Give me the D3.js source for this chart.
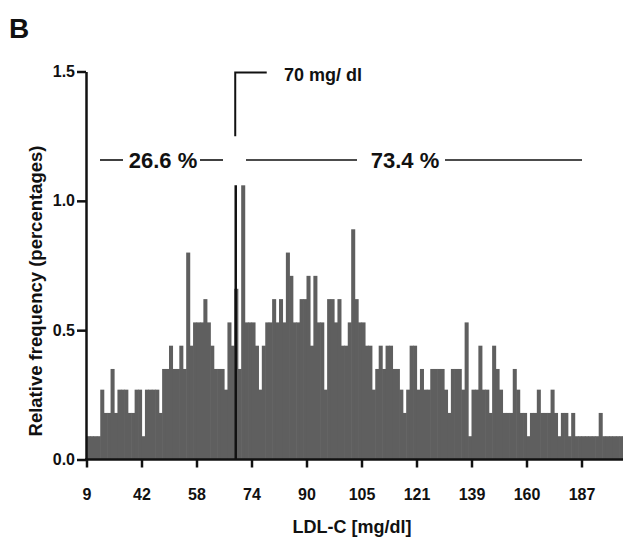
<!DOCTYPE html>
<html>
<head>
<meta charset="utf-8">
<script src="https://cdn.jsdelivr.net/npm/d3@7"></script>
<style>
  html, body { margin: 0; padding: 0; background: #fff; }
  svg { display: block; }
  text { font-family: "Liberation Sans", Arial, Helvetica, sans-serif; font-weight: bold; fill: #111; }
</style>
</head>
<body>
<svg id="chart" width="623" height="538"></svg>
<script>
// ---- data (relative frequency, % per LDL-C category, left to right) ----
const freq = [
  0.09,0.09,0.09,0.09,0.27,0.18,0.18,0.35,0.18,0.27,
  0.27,0.27,0.18,0.18,0.27,0.27,0.09,0.27,0.27,0.27,
  0.27,0.18,0.35,0.35,0.44,0.35,0.35,0.44,0.35,0.80,
  0.44,0.53,0.53,0.53,0.62,0.53,0.44,0.35,0.35,0.35,
  0.27,0.53,0.44,0.66,0.35,1.06,0.53,0.53,0.53,0.44,
  0.27,0.44,0.53,0.53,0.62,0.53,0.62,0.53,0.80,0.71,
  0.53,0.53,0.62,0.62,0.71,0.44,0.71,0.53,0.53,0.27,
  0.62,0.62,0.53,0.62,0.44,0.44,0.53,0.89,0.62,0.53,
  0.53,0.44,0.44,0.27,0.35,0.44,0.35,0.44,0.44,0.35,
  0.35,0.27,0.18,0.27,0.44,0.44,0.27,0.35,0.27,0.27,
  0.35,0.35,0.35,0.35,0.27,0.18,0.35,0.35,0.35,0.27,
  0.53,0.09,0.27,0.27,0.44,0.27,0.27,0.18,0.44,0.35,
  0.27,0.18,0.18,0.18,0.35,0.27,0.18,0.18,0.09,0.18,
  0.18,0.27,0.18,0.18,0.18,0.27,0.18,0.09,0.18,0.18,
  0.09,0.18,0.09,0.09,0.09,0.09,0.09,0.09,0.09,0.18,
  0.09,0.09,0.09,0.09,0.09,0.09,0.09
];
const tickLabels = ["9", "42", "58", "74", "90", "105", "121", "139", "160", "187"];
const labelEvery = 16;          // one label every 16 categories
const yTicks = [0, 0.5, 1.0, 1.5];
const cutoffIndex = 43;         // category of the 70 mg/dl threshold
const cutoffText = "70 mg/ dl";
const belowText = "26.6 %";
const aboveText = "73.4 %";

// ---- layout ----
const svg = d3.select("#chart");
const W = 623, H = 538;
const x0 = 86.5, step = 3.4375;
const n = freq.length;

const x = d3.scaleBand().domain(d3.range(n)).range([x0, x0 + n * step]).padding(0);
const xEdge = d3.scaleLinear().domain([0, n]).range([x0, x0 + n * step]);
const y = d3.scaleLinear().domain([0, 1.5]).range([459.5, 71.5]);

// bars (slight overlap so adjacent equal bars merge)
svg.append("g")
  .selectAll("rect")
  .data(freq)
  .join("rect")
  .attr("x", (d, i) => x(i))
  .attr("width", x.bandwidth() + 0.6)
  .attr("y", d => y(d))
  .attr("height", d => y(0) - y(d))
  .attr("fill", "#5f5f5f");

// threshold line
const cx = x(cutoffIndex) + x.bandwidth() / 2 - 0.3;
svg.append("line")
  .attr("x1", cx).attr("x2", cx)
  .attr("y1", y(d3.max(freq))).attr("y2", y(0))
  .attr("stroke", "#111").attr("stroke-width", 2.5);

// x axis
const xAxis = d3.axisBottom(xEdge)
  .tickValues(d3.range(0, n, labelEvery).filter((v, i) => i < tickLabels.length))
  .tickFormat((d, i) => tickLabels[i])
  .tickSize(8).tickSizeOuter(0).tickPadding(21);
const gx = svg.append("g").attr("transform", `translate(0,${y(0)})`).call(xAxis);
gx.select(".domain").attr("stroke", "#111").attr("stroke-width", 2.5)
  .attr("d", `M${x0 - 1.5},0H${W + 5}`);
gx.selectAll(".tick line").attr("stroke", "#111").attr("stroke-width", 2.5);
gx.selectAll(".tick text").attr("font-size", 16).style("font-family", "'Liberation Sans', Arial, sans-serif").style("font-weight", "bold").attr("fill", "#111");

// y axis
const yAxis = d3.axisLeft(y).tickValues(yTicks).tickFormat(d3.format(".1f"))
  .tickSize(9).tickSizeOuter(0).tickPadding(2);
const gy = svg.append("g").attr("transform", `translate(${x0 - 0.5},0)`).call(yAxis);
gy.select(".domain").attr("stroke", "#111").attr("stroke-width", 2.5);
gy.selectAll(".tick line").attr("stroke", "#111").attr("stroke-width", 2.5);
gy.selectAll(".tick text").attr("font-size", 16).style("font-family", "'Liberation Sans', Arial, sans-serif").style("font-weight", "bold").attr("fill", "#111");

// axis titles
svg.append("text")
  .attr("x", 352).attr("y", 533)
  .attr("text-anchor", "middle").attr("font-size", 18)
  .text("LDL-C [mg/dl]");
svg.append("text")
  .attr("transform", "translate(42,291) rotate(-90)")
  .attr("text-anchor", "middle").attr("font-size", 18.5)
  .text("Relative frequency (percentages)");

// panel letter
svg.append("text").attr("x", 9).attr("y", 38).attr("font-size", 28).text("B");

// bracket for 70 mg/dl
svg.append("path")
  .attr("d", `M${cx - 0.5},${y(1.25)}V${y(1.5) + 1}H${cx + 31}`)
  .attr("fill", "none").attr("stroke", "#111").attr("stroke-width", 2);
svg.append("text").attr("x", 284).attr("y", 81).attr("font-size", 18).text(cutoffText);

// share annotations
const ly = 160;
function seg(a, b) {
  svg.append("line").attr("x1", a).attr("x2", b).attr("y1", ly).attr("y2", ly)
    .attr("stroke", "#111").attr("stroke-width", 1.6);
}
seg(100, 123); seg(200, 223);
svg.append("text").attr("x", 163).attr("y", ly + 8).attr("text-anchor", "middle")
  .attr("font-size", 22).text(belowText);
seg(246, 357); seg(445, 582);
svg.append("text").attr("x", 405).attr("y", ly + 8).attr("text-anchor", "middle")
  .attr("font-size", 22).text(aboveText);
</script>
</body>
</html>
